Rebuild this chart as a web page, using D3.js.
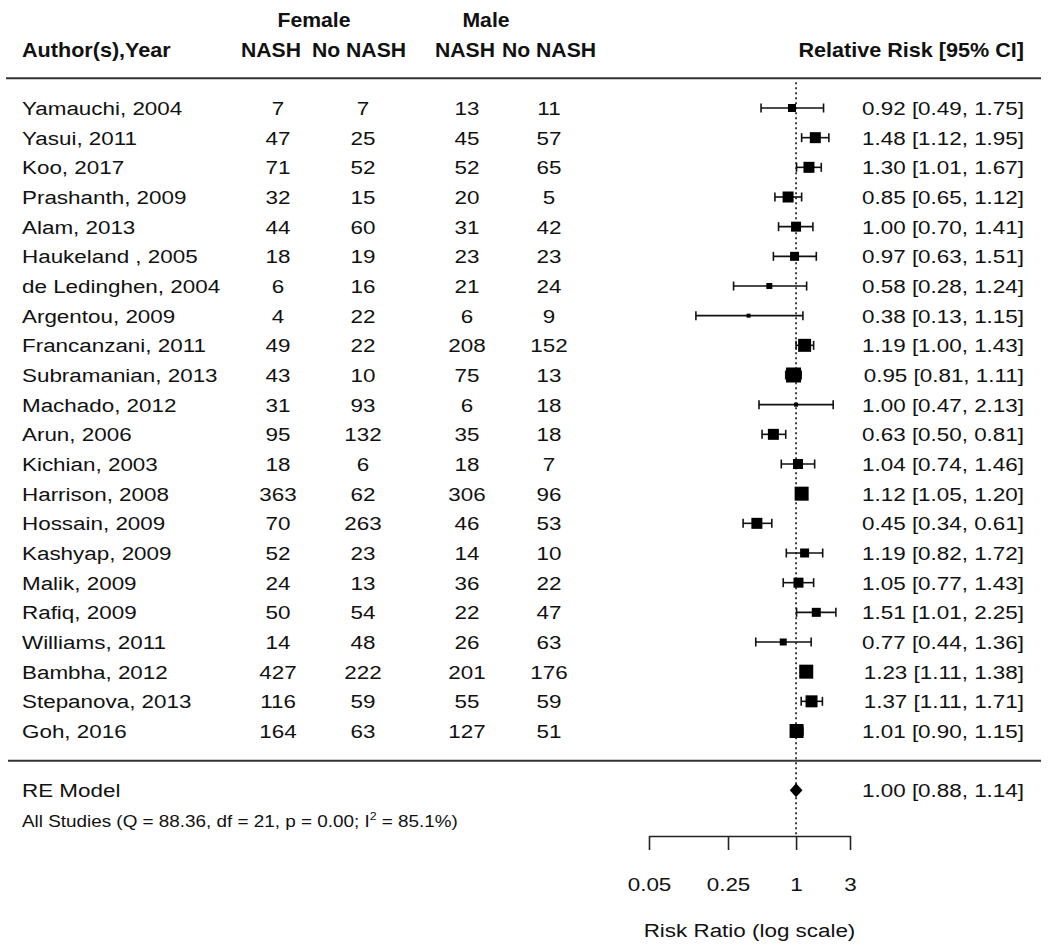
<!DOCTYPE html>
<html>
<head>
<meta charset="utf-8">
<script src="https://cdn.jsdelivr.net/npm/d3@7"></script>
<style>
  html, body { margin: 0; padding: 0; background: #fff; }
  svg { display: block; }
  text { font-family: "Liberation Sans", Arial, sans-serif; fill: #111; }
</style>
</head>
<body>
<svg id="chart" width="1050" height="951"></svg>
<script>
const authors = ["Yamauchi, 2004","Yasui, 2011","Koo, 2017","Prashanth, 2009","Alam, 2013","Haukeland , 2005","de Ledinghen, 2004","Argentou, 2009","Francanzani, 2011","Subramanian, 2013","Machado, 2012","Arun, 2006","Kichian, 2003","Harrison, 2008","Hossain, 2009","Kashyap, 2009","Malik, 2009","Rafiq, 2009","Williams, 2011","Bambha, 2012","Stepanova, 2013","Goh, 2016"];
const femaleNash   = [7,47,71,32,44,18,6,4,49,43,31,95,18,363,70,52,24,50,14,427,116,164];
const femaleNoNash = [7,25,52,15,60,19,16,22,22,10,93,132,6,62,263,23,13,54,48,222,59,63];
const maleNash     = [13,45,52,20,31,23,21,6,208,75,6,35,18,306,46,14,36,22,26,201,55,127];
const maleNoNash   = [11,57,65,5,42,23,24,9,152,13,18,18,7,96,53,10,22,47,63,176,59,51];
const rr    = [0.92,1.48,1.30,0.85,1.00,0.97,0.58,0.38,1.19,0.95,1.00,0.63,1.04,1.12,0.45,1.19,1.05,1.51,0.77,1.23,1.37,1.01];
const lower = [0.49,1.12,1.01,0.65,0.70,0.63,0.28,0.13,1.00,0.81,0.47,0.50,0.74,1.05,0.34,0.82,0.77,1.01,0.44,1.11,1.11,0.90];
const upper = [1.75,1.95,1.67,1.12,1.41,1.51,1.24,1.15,1.43,1.11,2.13,0.81,1.46,1.20,0.61,1.72,1.43,2.25,1.36,1.38,1.71,1.15];
const weights = [3.2,4.4,4.4,4.4,4.0,3.6,2.4,1.6,5.2,6.0,1.6,4.4,4.0,5.6,4.4,3.6,4.0,3.6,2.8,5.6,4.8,5.6];
const pooled = {label: "RE Model", est: 1.00, lo: 0.88, hi: 1.14};
const hetText = ["All Studies (Q = 88.36, df = 21, p = 0.00; I", "2", " = 85.1%)"];
const tickValues = [0.05, 0.25, 1, 3];
const tickLabels = ["0.05", "0.25", "1", "3"];
const headerGroups = ["Female", "Male"];
const headerCols = ["NASH", "No NASH", "NASH", "No NASH"];

const SX = 1.18;
const svg = d3.select("#chart");
const x = d3.scaleLog().domain([0.05, 3]).range([649, 850]);
const y = d3.scaleLinear().domain([0, 21]).range([108, 731]);
const size = d3.scaleLinear().domain([d3.min(weights), d3.max(weights)]).range([4, 15]);
const fmt = d3.format(".2f");

function txt(g, px, py, s, opts = {}) {
  return g.append("text")
    .attr("transform", `translate(${px},${py}) scale(${opts.sx || SX},1)`)
    .attr("text-anchor", opts.anchor || "start")
    .attr("dy", "0.36em")
    .style("font-size", (opts.size || 19) + "px")
    .style("font-weight", opts.bold ? "bold" : "normal")
    .text(s);
}

// header
const hdr = svg.append("g");
const hb = {bold: true, size: 20, sx: 1.06};
txt(hdr, 314, 20, headerGroups[0], {...hb, anchor: "middle"});
txt(hdr, 486, 20, headerGroups[1], {...hb, anchor: "middle"});
txt(hdr, 22, 50, "Author(s),Year", {...hb, sx: 1.08});
const hx = [271, 359, 465, 549];
headerCols.forEach((h, i) => txt(hdr, hx[i], 50, h, {...hb, anchor: "middle"}));
txt(hdr, 1024, 50, "Relative Risk [95% CI]", {...hb, anchor: "end", sx: 1.08});

// horizontal rules
svg.append("line").attr("x1", 6).attr("x2", 1041).attr("y1", y(-1)).attr("y2", y(-1))
  .attr("stroke", "#333").attr("stroke-width", 2);
svg.append("line").attr("x1", 8).attr("x2", 1041).attr("y1", y(22)).attr("y2", y(22))
  .attr("stroke", "#333").attr("stroke-width", 2);

// reference line
const axisY = 836;
svg.append("line").attr("x1", x(1)).attr("x2", x(1)).attr("y1", y(-1) + 4).attr("y2", axisY)
  .attr("stroke", "#111").attr("stroke-width", 1.6).attr("stroke-dasharray", "2,3");

// rows
const cols = [femaleNash, femaleNoNash, maleNash, maleNoNash];
const cx = [278, 363, 467, 549];
const rows = svg.append("g");
authors.forEach((a, i) => {
  const yy = y(i);
  txt(rows, 22, yy, a);
  cols.forEach((c, j) => txt(rows, cx[j], yy, c[i], {anchor: "middle"}));
  txt(rows, 1024, yy, `${fmt(rr[i])} [${fmt(lower[i])}, ${fmt(upper[i])}]`, {anchor: "end"});
  const g = rows.append("g").attr("stroke", "#111").attr("stroke-width", 1.6);
  g.append("line").attr("x1", x(lower[i])).attr("x2", x(upper[i])).attr("y1", yy).attr("y2", yy);
  g.append("line").attr("x1", x(lower[i])).attr("x2", x(lower[i])).attr("y1", yy - 4.5).attr("y2", yy + 4.5);
  g.append("line").attr("x1", x(upper[i])).attr("x2", x(upper[i])).attr("y1", yy - 4.5).attr("y2", yy + 4.5);
  const s = size(weights[i]);
  rows.append("rect").attr("x", x(rr[i]) - s / 2).attr("y", yy - s / 2)
    .attr("width", s).attr("height", s).attr("fill", "#000");
});

// pooled
const py = y(23);
txt(svg, 22, py, pooled.label);
const ht = svg.append("text")
  .attr("transform", `translate(22,${py + 31}) scale(${SX},1)`)
  .attr("dy", "0.36em").style("font-size", "16px");
ht.append("tspan").text(hetText[0]);
ht.append("tspan").attr("dy", -7).style("font-size", "10.5px").text(hetText[1]);
ht.append("tspan").attr("dy", 7).text(hetText[2]);
svg.append("path")
  .attr("d", `M${x(pooled.lo)},${py} L${x(pooled.est)},${py - 7} L${x(pooled.hi)},${py} L${x(pooled.est)},${py + 7} Z`)
  .attr("fill", "#000");
txt(svg, 1024, py, `${fmt(pooled.est)} [${fmt(pooled.lo)}, ${fmt(pooled.hi)}]`, {anchor: "end"});

// axis
const axis = d3.axisBottom(x).tickValues(tickValues)
  .tickFormat((d, i) => tickLabels[i]).tickSize(14).tickSizeOuter(0).tickPadding(28);
const ag = svg.append("g").attr("transform", `translate(0,${axisY})`).call(axis);
ag.select(".domain").attr("stroke", "#222").attr("stroke-width", 1.6);
ag.selectAll(".tick line").attr("stroke", "#222").attr("stroke-width", 1.6);
ag.selectAll(".tick text").attr("fill", "#111")
  .style("font-size", "19px").style("font-family", "'Liberation Sans', Arial, sans-serif")
  .attr("transform", `scale(${SX},1)`);
txt(svg, (x(0.05) + x(3)) / 2, 930, "Risk Ratio (log scale)", {anchor: "middle"});
</script>
</body>
</html>
